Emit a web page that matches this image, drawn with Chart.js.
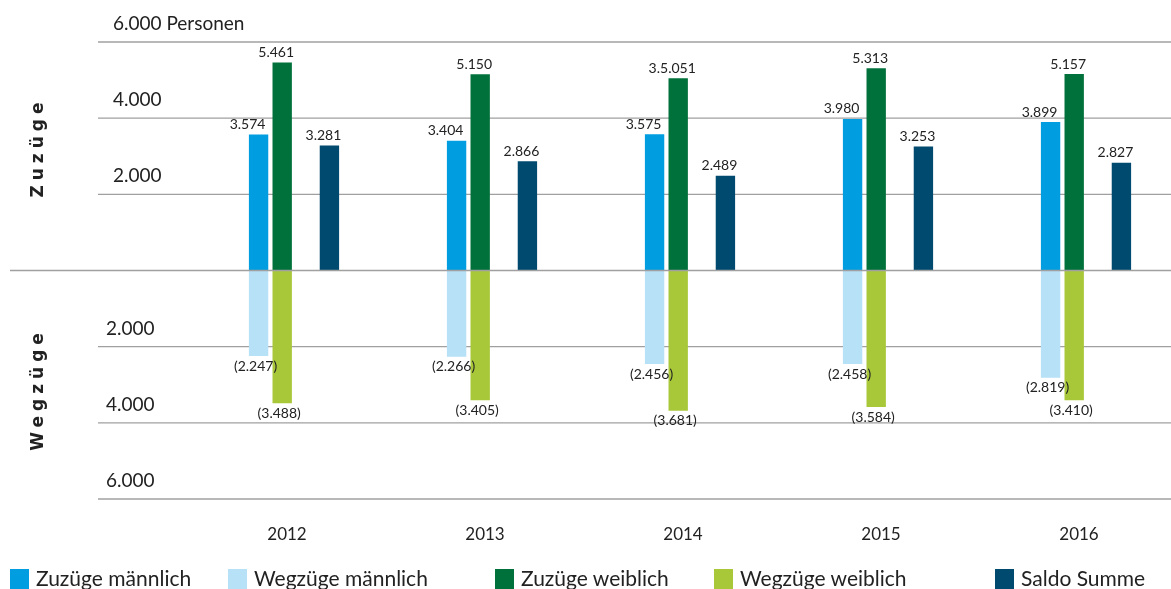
<!DOCTYPE html>
<html lang="de">
<head>
<meta charset="utf-8">
<title>Zuzüge und Wegzüge</title>
<script src="https://cdn.jsdelivr.net/npm/chart.js@4.4.1/dist/chart.umd.min.js"></script>
<style>
  body { margin: 0; background: #fff; font-family: Lato, sans-serif; }
  #wrap { position: relative; width: 1171px; height: 589px; overflow: hidden; }
  #legend { position: absolute; left: 0; top: 0; width: 1171px; height: 589px; pointer-events: none; }
  .lg-box { position: absolute; top: 569px; width: 19px; height: 22px; }
  .lg-text { position: absolute; top: 566px; font-size: 21px; color: #222; white-space: nowrap; line-height: 24px; }
</style>
</head>
<body>
<div id="wrap">
  <canvas id="chart" width="1171" height="589"></canvas>
  <div id="legend"></div>
</div>
<script>
const years = ['2012', '2013', '2014', '2015', '2016'];
const zuzuegeMaennlich = [3574, 3404, 3575, 3980, 3899];
const wegzuegeMaennlich = [-2247, -2266, -2456, -2458, -2819];
const zuzuegeWeiblich = [5461, 5150, 5051, 5313, 5157];
const wegzuegeWeiblich = [-3488, -3405, -3681, -3584, -3410];
const saldoSumme = [3281, 2866, 2489, 3253, 2827];
const yTicks = [6000, 4000, 2000, -2000, -4000, -6000];

// the printed label for 2014 has a typo in the original
const labelOverrides = { 'Zuzüge weiblich|2': '3.5.051' };

const colors = {
  zuzM: '#009ee0',
  wegM: '#b6e1f7',
  zuzW: '#00713a',
  wegW: '#a8c83a',
  saldo: '#004a6f'
};

const legendItems = [
  { text: 'Zuzüge männlich', color: colors.zuzM, x: 10 },
  { text: 'Wegzüge männlich', color: colors.wegM, x: 228 },
  { text: 'Zuzüge weiblich', color: colors.zuzW, x: 495 },
  { text: 'Wegzüge weiblich', color: colors.wegW, x: 714 },
  { text: 'Saldo Summe', color: colors.saldo, x: 995 }
];

function formatNumber(v) {
  const s = Math.abs(v).toLocaleString('de-DE');
  return v < 0 ? '(' + s + ')' : s;
}

const gridPlugin = {
  id: 'gridPlugin',
  beforeDatasetsDraw(chart) {
    const { ctx } = chart;
    const y = chart.scales.y;
    ctx.save();
    ctx.strokeStyle = '#a0a0a0';
    ctx.lineWidth = 1.3;
    yTicks.forEach(v => {
      const py = y.getPixelForValue(v);
      ctx.beginPath();
      ctx.moveTo(98, py);
      ctx.lineTo(1171, py);
      ctx.stroke();
    });

    ctx.fillStyle = '#222';
    ctx.font = '19px Lato';
    ctx.textBaseline = 'middle';
    ctx.textAlign = 'left';
    yTicks.forEach(v => {
      const py = y.getPixelForValue(v);
      let txt = Math.abs(v).toLocaleString('de-DE');
      if (v === yTicks[0]) txt += ' Personen';
      ctx.fillText(txt, v > 0 ? 113 : 106, py - 18);
    });

    // rotated section titles
    ctx.font = 'bold 17px "DejaVu Sans"';
    ctx.textAlign = 'center';
    if ('letterSpacing' in ctx) ctx.letterSpacing = '5px';
    [['Zuzüge', 3150], ['Wegzüge', -3200]].forEach(([txt, v]) => {
      ctx.save();
      ctx.translate(39, y.getPixelForValue(v));
      ctx.rotate(-Math.PI / 2);
      ctx.fillText(txt, 3, 0);
      ctx.restore();
    });
    ctx.restore();
  },
  afterDatasetsDraw(chart) {
    const { ctx } = chart;
    const y = chart.scales.y;
    ctx.save();
    // zero line runs over the bars
    ctx.strokeStyle = '#a0a0a0';
    ctx.lineWidth = 1.3;
    const py0 = y.getPixelForValue(0);
    ctx.beginPath();
    ctx.moveTo(10, py0);
    ctx.lineTo(1171, py0);
    ctx.stroke();

    // value labels
    ctx.fillStyle = '#222';
    ctx.font = '14px Lato';
    ctx.textAlign = 'center';
    ctx.textBaseline = 'middle';
    chart.data.datasets.forEach((ds, di) => {
      if (!ds.label) return;
      const meta = chart.getDatasetMeta(di);
      meta.data.forEach((bar, i) => {
        const v = ds.data[i];
        if (v == null) return;
        const txt = labelOverrides[ds.label + '|' + i] || formatNumber(v);
        if (v >= 0) {
          const dx = ds.label === 'Zuzüge männlich' ? -11 : -6;
          ctx.fillText(txt, bar.x + dx, bar.y - 10);
        } else {
          ctx.fillText(txt, bar.x - 3, bar.y + 10);
        }
      });
    });
    ctx.restore();
  }
};

const canvas = document.getElementById('chart');
new Chart(canvas.getContext('2d'), {
  type: 'bar',
  data: {
    labels: years,
    datasets: [
      { label: 'Zuzüge männlich', data: zuzuegeMaennlich, backgroundColor: colors.zuzM, stack: 'm' },
      { label: 'Wegzüge männlich', data: wegzuegeMaennlich, backgroundColor: colors.wegM, stack: 'm' },
      { label: 'Zuzüge weiblich', data: zuzuegeWeiblich, backgroundColor: colors.zuzW, stack: 'w' },
      { label: 'Wegzüge weiblich', data: wegzuegeWeiblich, backgroundColor: colors.wegW, stack: 'w' },
      { label: '', data: years.map(() => null), stack: 'gap' },
      { label: 'Saldo Summe', data: saldoSumme, backgroundColor: colors.saldo, stack: 's' }
    ]
  },
  options: {
    responsive: false,
    animation: false,
    events: [],
    clip: false,
    categoryPercentage: 0.477,
    barPercentage: 0.82,
    layout: { padding: { left: 294, right: 85, top: 42, bottom: 30 } },
    plugins: {
      legend: { display: false },
      tooltip: { enabled: false }
    },
    scales: {
      x: {
        stacked: true,
        offset: false,
        grid: { display: false },
        border: { display: false },
        ticks: {
          color: '#222',
          font: { family: 'Lato', size: 17 },
          padding: 17,
          labelOffset: -7,
          maxRotation: 0
        },
        afterFit: scale => { scale.height = 60; }
      },
      y: {
        display: false,
        stacked: true,
        min: -6000,
        max: 6000
      }
    }
  },
  plugins: [gridPlugin]
});

const legendEl = document.getElementById('legend');
legendItems.forEach(item => {
  const box = document.createElement('div');
  box.className = 'lg-box';
  box.style.left = item.x + 'px';
  box.style.background = item.color;
  const t = document.createElement('div');
  t.className = 'lg-text';
  t.style.left = (item.x + 26) + 'px';
  t.textContent = item.text;
  legendEl.appendChild(box);
  legendEl.appendChild(t);
});
</script>
</body>
</html>
